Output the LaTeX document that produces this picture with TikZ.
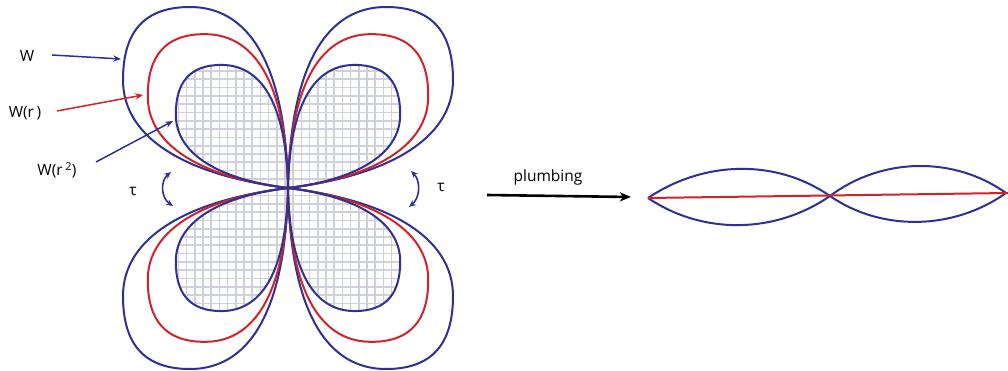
\documentclass[tikz,border=0pt]{standalone}
\usepackage{fontspec}
\setmainfont{Open Sans}
\usetikzlibrary{arrows.meta}
\definecolor{pblue}{RGB}{46,49,146}
\definecolor{pred}{RGB}{210,35,42}
\definecolor{pgrid}{RGB}{206,208,218}
\def\petal{(0,0) .. controls (-2,-110) and (-32,-181) .. (-98,-181) .. controls (-145,-181) and (-165,-155) .. (-165,-108) .. controls (-165,-48) and (-98,-12) .. (0,0)}
\begin{document}
\begin{tikzpicture}[x=1pt,y=-1pt,
  curve/.style={line width=2pt},
  gridline/.style={pgrid,line width=1.7pt},
  lbl/.style={font=\fontsize{15.5}{18}\selectfont, inner sep=0pt},
  tip/.style={-{Stealth[length=8pt,width=6.5pt,inset=3pt]}},
  tips/.style={{Stealth[length=7pt,width=6pt,inset=2.5pt]}-{Stealth[length=7pt,width=6pt,inset=2.5pt]}}]
\useasboundingbox (0,0) rectangle (1008,371);
% petals
\foreach \sx/\sy in {1/1,-1/1,1/-1,-1/-1}{
  \begin{scope}[shift={(288,188)}, xscale=\sx, yscale=\sy]
    \begin{scope}
      \clip[scale=0.68] \petal;
      \begin{scope}
        \pgftransformreset
        \foreach \k in {-12,...,30} \draw[gridline] (244+\k*8.2,30) -- (244+\k*8.2,360);
        \foreach \k in {-15,...,26} \draw[gridline] (150,154+\k*8.3) -- (430,154+\k*8.3);
      \end{scope}
    \end{scope}
    \draw[pblue,curve] \petal;
    \draw[pred,curve,scale=0.85] \petal;
    \draw[pblue,curve,scale=0.68] \petal;
  \end{scope}
}
% labels
\node[lbl] (w) at (27,56) {W};
\node[lbl] (wr) at (25,113) {W(r\,)};
\node[lbl] (wrr) at (57,170) {W(r\,\textsuperscript{2})};
\coordinate (ws) at (52,55);
\coordinate (we) at (121,59);
\coordinate (wrs) at (57,111);
\coordinate (wre) at (143,95);
\coordinate (wrrs) at (96,162);
\coordinate (wrre) at (173,121);
\draw[pblue,line width=1.5pt,tip] (ws) -- (we);
\draw[pred,line width=1.5pt,tip] (wrs) -- (wre);
\draw[pblue,line width=1.5pt,tip] (wrrs) -- (wrre);
% tau
\node[lbl] (t1) at (133,191) {τ};
\node[lbl] (t2) at (441,187) {τ};
\coordinate (t1a) at (171,172);
\coordinate (t1b) at (173,206);
\coordinate (t2a) at (411,171);
\coordinate (t2b) at (409,207);
\draw[pblue,line width=1.6pt,tips] (t1a) .. controls (160,181) and (161,198) .. (t1b);
\draw[pblue,line width=1.6pt,tips] (t2a) .. controls (421,181) and (420,198) .. (t2b);
% plumbing
\node[lbl] (pl) at (548,177) {plumbing};
\coordinate (ps) at (487,195);
\coordinate (pe) at (631,197);
\draw[black,line width=2.6pt,-{Stealth[length=11pt,width=9pt,inset=3pt]}] (ps) -- (pe);
% lens
\coordinate (A) at (648,198);
\coordinate (B) at (830,196);
\coordinate (E) at (1006,193);
\coordinate (R) at (1008,193);
\draw[pblue,curve] (A) .. controls (703,161) and (775,158) .. (B);
\draw[pblue,curve] (A) .. controls (703,235) and (775,234) .. (B);
\draw[pblue,curve] (B) .. controls (882,157) and (954,156) .. (E);
\draw[pblue,curve] (B) .. controls (882,232) and (954,230) .. (E);
\draw[pred,curve] (A) -- (R);
\end{tikzpicture}
\end{document}
